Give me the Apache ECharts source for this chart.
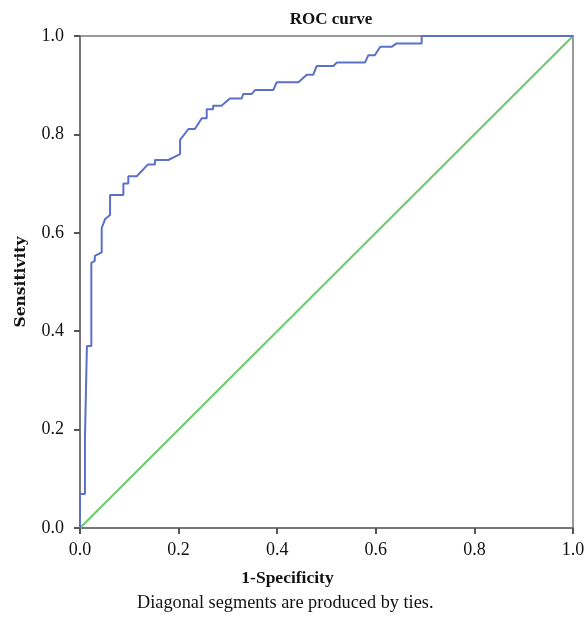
<!DOCTYPE html>
<html>
<head>
<meta charset="utf-8">
<script src="https://cdn.jsdelivr.net/npm/echarts@6/dist/echarts.min.js"></script>
<style>
  html, body { margin: 0; padding: 0; background: #fff; }
  #chart { width: 584px; height: 618px; }
</style>
</head>
<body>
<div id="chart"></div>
<script>
// ROC curve points (1-Specificity, Sensitivity)
var rocX = [0, 0, 0.010, 0.010, 0.014, 0.014, 0.023, 0.023, 0.030, 0.030, 0.044, 0.044, 0.051, 0.061, 0.061,
  0.088, 0.088, 0.098, 0.098, 0.115, 0.138, 0.152, 0.152, 0.179, 0.203, 0.203, 0.220, 0.233, 0.247, 0.257,
  0.257, 0.270, 0.270, 0.287, 0.304, 0.328, 0.331, 0.348, 0.355, 0.392, 0.399, 0.443, 0.460, 0.473, 0.480,
  0.514, 0.521, 0.578, 0.585, 0.598, 0.609, 0.632, 0.642, 0.693, 0.693, 1.0];
var rocY = [0, 0.069, 0.069, 0.181, 0.181, 0.370, 0.370, 0.539, 0.543, 0.553, 0.560, 0.610, 0.628, 0.636, 0.677,
  0.677, 0.700, 0.700, 0.715, 0.715, 0.739, 0.739, 0.748, 0.748, 0.760, 0.789, 0.811, 0.811, 0.833, 0.833,
  0.851, 0.851, 0.858, 0.858, 0.873, 0.873, 0.882, 0.882, 0.890, 0.890, 0.906, 0.906, 0.921, 0.921, 0.939,
  0.939, 0.946, 0.946, 0.961, 0.961, 0.978, 0.978, 0.985, 0.985, 1.0, 1.0];
// reference (chance) line
var refX = [0, 1];
var refY = [0, 1];

var font = '"Liberation Serif", "DejaVu Serif", serif';

var rocData = rocX.map(function (x, i) { return [x, rocY[i]]; });
var refData = refX.map(function (x, i) { return [x, refY[i]]; });

var myChart = echarts.init(document.getElementById('chart'));
myChart.setOption({
  backgroundColor: '#fff',
  animation: false,
  title: {
    text: 'ROC curve',
    left: 326, top: 6, textAlign: 'center',
    textStyle: { fontFamily: font, fontWeight: 'bold', fontSize: 17, color: '#111' }
  },
  graphic: [{
    type: 'text', left: 137, top: 594,
    style: { text: 'Diagonal segments are produced by ties.', font: '18.3px ' + font, fill: '#111' }
  }],
  grid: {
    left: 80, right: 11, top: 36, bottom: 90,
    outerBoundsMode: 'none', containLabel: false,
    show: true, borderColor: '#999', borderWidth: 2
  },
  xAxis: {
    type: 'value', min: 0, max: 1, interval: 0.2,
    name: '1-Specificity', nameLocation: 'middle', nameGap: 41,
    nameTextStyle: { fontFamily: font, fontWeight: 'bold', fontSize: 17.5, color: '#111',
      padding: [0, 78, 0, 0] },
    axisLine: { show: true, lineStyle: { color: '#777', width: 2 } },
    axisTick: { show: true, length: 6, lineStyle: { color: '#555', width: 2 } },
    axisLabel: { fontFamily: font, fontSize: 18, color: '#111', margin: 13,
      formatter: function (v) { return v.toFixed(1); } },
    splitLine: { show: false }
  },
  yAxis: {
    type: 'value', min: 0, max: 1, interval: 0.2,
    name: 'Sensitivity', nameLocation: 'middle', nameGap: 51,
    nameTextStyle: { fontFamily: '"DejaVu Serif", serif', fontWeight: 'bold', fontSize: 15.5, color: '#111' },
    axisLine: { show: true, lineStyle: { color: '#777', width: 2 } },
    axisTick: { show: true, length: 6, lineStyle: { color: '#555', width: 2 } },
    axisLabel: { fontFamily: font, fontSize: 18, color: '#111', margin: 16,
      formatter: function (v) { return v.toFixed(1); } },
    splitLine: { show: false }
  },
  series: [{
    type: 'line', data: refData, showSymbol: false,
    lineStyle: { color: '#6cc96c', width: 2 }, z: 2
  }, {
    type: 'line', data: rocData, showSymbol: false,
    lineStyle: { color: '#5b70c8', width: 2 }, z: 3
  }]
});
</script>
</body>
</html>
